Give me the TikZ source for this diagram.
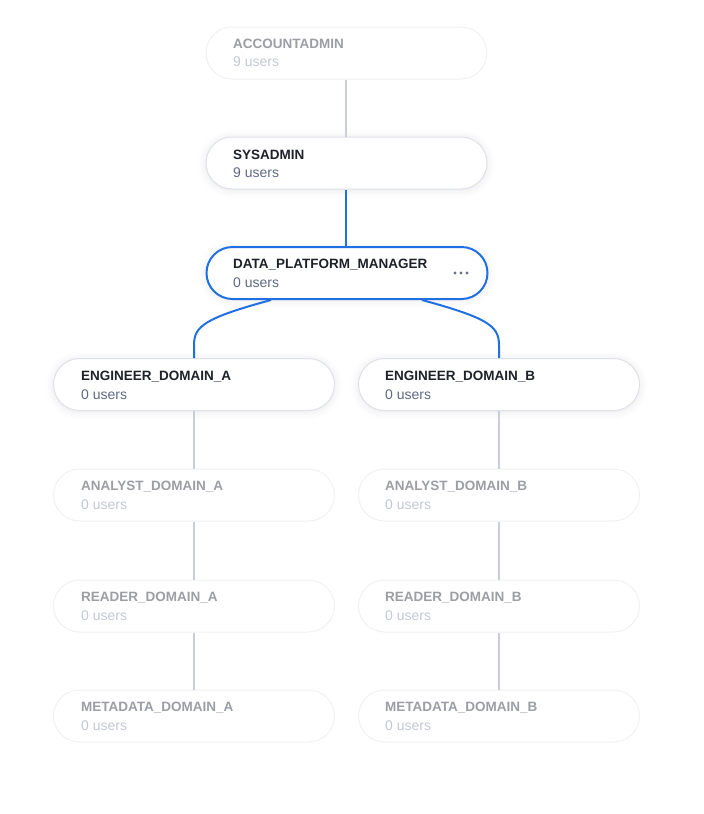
\documentclass[tikz,border=0pt]{standalone}
\usepackage{fontspec}
\setmainfont{Liberation Sans}
\usetikzlibrary{shadows.blur}
\definecolor{blueacc}{HTML}{2070E3}
\definecolor{linegray}{HTML}{CACEDB}
\definecolor{titledark}{HTML}{1E2129}
\definecolor{subdark}{HTML}{5E6A84}
\definecolor{titlefade}{HTML}{9C9EA5}
\definecolor{subfade}{HTML}{C4C8D4}
\definecolor{borderact}{HTML}{DEE1E8}
\definecolor{borderfade}{HTML}{F0F1F4}
\definecolor{dotcol}{HTML}{6A7285}
\tikzset{
  rolebox/.style={draw, rounded corners=26pt, minimum width=281pt, minimum height=52pt, inner sep=0pt, fill=white},
  activebox/.style={rolebox, draw=borderact, line width=1pt, blur shadow={shadow xshift=0pt, shadow yshift=-1pt, shadow blur radius=8pt, shadow blur extra rounding=4pt, shadow opacity=10}},
  fadebox/.style={rolebox, draw=borderfade, line width=1pt},
  selbox/.style={rolebox, draw=blueacc, line width=2pt, blur shadow={shadow xshift=0pt, shadow yshift=-1pt, shadow blur radius=8pt, shadow blur extra rounding=4pt, shadow opacity=10}},
  ttl/.style={anchor=west, inner sep=0pt, font=\fontsize{13.5}{15}\selectfont\bfseries},
  sub/.style={anchor=west, inner sep=0pt, font=\fontsize{14}{16}\selectfont},
  gline/.style={draw=linegray, line width=1.3pt},
  bline/.style={draw=blueacc, line width=2pt},
}
\begin{document}
\begin{tikzpicture}[x=1pt,y=-1pt]
\useasboundingbox (0,0) rectangle (704,814);
% boxes
\node[fadebox] (acc) at (346.5,53) {};
\node[activebox] (sys) at (346.5,163) {};
\node[selbox] (dpm) at (347,273) {};
\node[activebox] (ea) at (194,384.5) {};
\node[activebox] (eb) at (499,384.5) {};
\node[fadebox] (aa) at (194,495) {};
\node[fadebox] (ab) at (499,495) {};
\node[fadebox] (ra) at (194,606) {};
\node[fadebox] (rb) at (499,606) {};
\node[fadebox] (ma) at (194,716) {};
\node[fadebox] (mb) at (499,716) {};
% texts
\node[ttl, text=titlefade] (acc-t) at (233,43.5) {ACCOUNTADMIN};
\node[sub, text=subfade] (acc-s) at (233,61.5) {9 users};
\node[ttl, text=titledark] (sys-t) at (233,154.5) {SYSADMIN};
\node[sub, text=subdark] (sys-s) at (233,172.5) {9 users};
\node[ttl, text=titledark] (dpm-t) at (233,265) {DATA\_PLATFORM\_MANAGER};
\node[sub, text=subdark] (dpm-s) at (233,283) {0 users};
\node[ttl, text=titledark] (ea-t) at (81,376.5) {ENGINEER\_DOMAIN\_A};
\node[sub, text=subdark] (ea-s) at (81,394.5) {0 users};
\node[ttl, text=titledark] (eb-t) at (385,376.5) {ENGINEER\_DOMAIN\_B};
\node[sub, text=subdark] (eb-s) at (385,394.5) {0 users};
\node[ttl, text=titlefade] (aa-t) at (81,487) {ANALYST\_DOMAIN\_A};
\node[sub, text=subfade] (aa-s) at (81,505) {0 users};
\node[ttl, text=titlefade] (ab-t) at (385,487) {ANALYST\_DOMAIN\_B};
\node[sub, text=subfade] (ab-s) at (385,505) {0 users};
\node[ttl, text=titlefade] (ra-t) at (81,598) {READER\_DOMAIN\_A};
\node[sub, text=subfade] (ra-s) at (81,616) {0 users};
\node[ttl, text=titlefade] (rb-t) at (385,598) {READER\_DOMAIN\_B};
\node[sub, text=subfade] (rb-s) at (385,616) {0 users};
\node[ttl, text=titlefade] (ma-t) at (81,708) {METADATA\_DOMAIN\_A};
\node[sub, text=subfade] (ma-s) at (81,726) {0 users};
\node[ttl, text=titlefade] (mb-t) at (385,708) {METADATA\_DOMAIN\_B};
\node[sub, text=subfade] (mb-s) at (385,726) {0 users};
% menu dots
\foreach \dx in {-6,0,6} \fill[dotcol] (461+\dx,273) circle (1.6pt);
% connectors
\path[gline] ([xshift=-0.5pt]acc.south) -- ([xshift=-0.5pt]sys.north);
\path[bline] ([xshift=-0.5pt]sys.south) -- ([xshift=-1pt]dpm.north);
\path[bline] ([xshift=-76pt]dpm.south) .. controls (205,318) and (194,326) .. (194,345) -- (ea.north);
\path[bline] ([xshift=75pt]dpm.south) .. controls (488,318) and (499,326) .. (499,345) -- (eb.north);
\path[gline] (ea.south) -- (aa.north);
\path[gline] (aa.south) -- (ra.north);
\path[gline] (ra.south) -- (ma.north);
\path[gline] (eb.south) -- (ab.north);
\path[gline] (ab.south) -- (rb.north);
\path[gline] (rb.south) -- (mb.north);
\end{tikzpicture}
\end{document}
